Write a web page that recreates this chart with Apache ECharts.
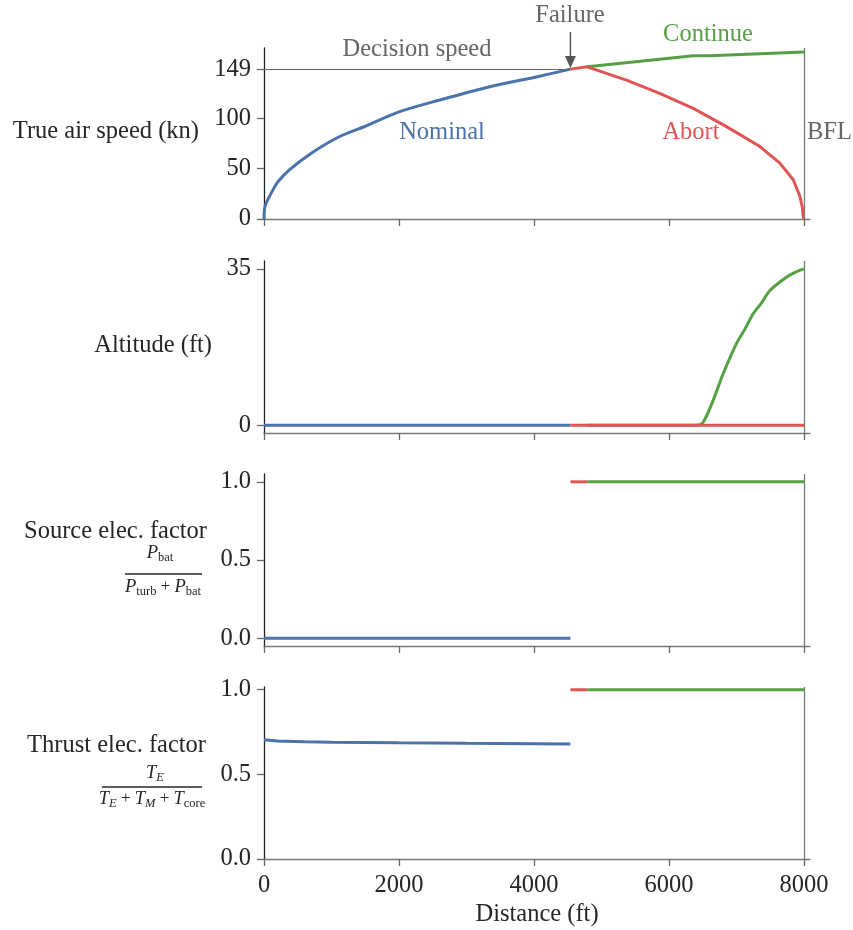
<!DOCTYPE html>
<html>
<head>
<meta charset="utf-8">
<script src="https://cdn.jsdelivr.net/npm/echarts@6/dist/echarts.min.js"></script>
<style>
  html, body { margin: 0; padding: 0; background: #fff; }
  #chart { width: 853px; height: 930px; }
</style>
</head>
<body>
<div id="chart"></div>
<script>
// ---------- data ----------
const xTicks = [0, 2000, 4000, 6000, 8000];
const decisionSpeed = 149;
const failureDist = 4540;
const bflDist = 8000;

const tasTicks = [0, 50, 100, 149];
const altTicks = [0, 35];
const factorTicks = [0, 0.5, 1.0];

// True air speed (kn)
const tasNominal = [[0,0],[15,12.5],[133,29],[207,37],[380,49],[701,65.4],[1121,82],[1500,92.2],[2010,106.7],[2604,118.3],[3345,131.5],[4086,142],[4540,149]];
const tasAbort = [[4540,149],[4790,151.3],[5370,138],[5863,124.9],[6360,110],[6853,91.8],[7348,72],[7644,55.5],[7842,39],[7941,22.4],[7975,12],[7990,2.6],[8000,0]];
const tasContinue = [[4790,151.3],[6360,162.2],[6600,162.3],[8000,166.1]];

// Altitude (ft)
const altNominal = [[0,0],[4540,0]];
const altAbort = [[4540,0],[8000,0]];
const altContinue = [[4790,0],[6405,0],[6504,0.6],[6652,5.45],[6800,11.4],[6998,18.2],[7126,21.5],[7245,24.9],[7373,27.4],[7493,30.1],[7740,33.1],[7867,34.2],[8000,35]];

// Source elec. factor
const srcNominal = [[0,0],[4540,0]];
const srcAbort = [[4540,1],[4790,1]];
const srcContinue = [[4790,1],[8000,1]];

// Thrust elec. factor
const thrNominal = [[0,0.704],[200,0.697],[600,0.692],[1000,0.690],[2000,0.686],[3000,0.683],[4540,0.680]];
const thrAbort = [[4540,1],[4790,1]];
const thrContinue = [[4790,1],[8000,1]];

// ---------- style ----------
const FONT = 'Liberation Serif';
const FS = 24.5;
const BLUE = '#4a72ab', RED = '#e05454', GREEN = '#55a044', GRAY = '#666666', TXT = '#262626';

const gridPos = [
  {top: 48, height: 171},
  {top: 261, height: 172},
  {top: 474, height: 172},
  {top: 687, height: 172}
];
const yRanges = [
  {min: 0, max: 170, ticks: tasTicks, fmt: v => String(v)},
  {min: -1.75, max: 36.75, ticks: altTicks, fmt: v => String(v)},
  {min: -0.05, max: 1.05, ticks: factorTicks, fmt: v => v.toFixed(1)},
  {min: 0, max: 1.016, ticks: factorTicks, fmt: v => v.toFixed(1)}
];

const chart = echarts.init(document.getElementById('chart'), null, {renderer: 'canvas'});

const grid = gridPos.map(g => ({left: 264, width: 546, top: g.top, height: g.height}));
const xAxis = gridPos.map((g, i) => ({
  type: 'value', gridIndex: i, min: 0, max: 8090,
  axisLine: {show: true, onZero: false, lineStyle: {color: '#777', width: 1.3}},
  axisTick: {show: true, length: 7, customValues: xTicks, lineStyle: {color: '#666', width: 1.3}},
  axisLabel: {show: i === 3, customValues: xTicks, formatter: v => String(v), margin: 14,
              color: TXT, fontFamily: FONT, fontSize: FS},
  splitLine: {show: false}
}));
const yAxis = yRanges.map((r, i) => ({
  type: 'value', gridIndex: i, min: r.min, max: r.max,
  axisLine: {show: true, onZero: false, lineStyle: {color: '#222', width: 1.3}},
  axisTick: {show: true, length: 7, customValues: r.ticks, lineStyle: {color: '#666', width: 1.3}},
  axisLabel: {customValues: r.ticks, formatter: r.fmt, margin: 13, color: TXT, fontFamily: FONT, fontSize: FS},
  splitLine: {show: false}
}));

function line(name, data, color, gi, extra) {
  return Object.assign({
    type: 'line', name: name, data: data, xAxisIndex: gi, yAxisIndex: gi,
    showSymbol: false, symbol: 'none', silent: true, clip: false,
    lineStyle: {color: color, width: 3}, itemStyle: {color: color},
    emphasis: {disabled: true}
  }, extra || {});
}
const SM = {smooth: 0.3};
function bflMark(extraData) {
  return {
    silent: true, symbol: ['none', 'none'], label: {show: false}, animation: false,
    lineStyle: {color: '#777', width: 1.3, type: 'solid'},
    emphasis: {disabled: true},
    data: [{xAxis: bflDist}].concat(extraData || [])
  };
}

const panels = [
  [tasNominal, tasContinue, tasAbort],
  [altNominal, altContinue, altAbort],
  [srcNominal, srcContinue, srcAbort],
  [thrNominal, thrContinue, thrAbort]
];
const series = [];
panels.forEach((p, i) => {
  const extra = i === 0
    ? [[{coord: [0, decisionSpeed], lineStyle: {color: GRAY, width: 1}}, {coord: [failureDist, decisionSpeed]}]]
    : [];
  series.push(line('Nominal', p[0], BLUE, i, Object.assign({markLine: bflMark(extra)}, i === 0 ? SM : {})));
  series.push(line('Continue', p[1], GREEN, i, i === 1 ? SM : {}));
  series.push(line('Abort', p[2], RED, i, {}));
});

chart.setOption({
  animation: false,
  backgroundColor: '#fff',
  textStyle: {fontFamily: FONT},
  grid: grid, xAxis: xAxis, yAxis: yAxis, series: series
});

// ---------- annotations ----------
function txt(text, x, y, color, align, size) {
  return {
    type: 'text', silent: true, z: 100,
    style: {text: text, x: x, y: y, fill: color, font: (size || FS) + 'px "' + FONT + '"',
            align: align || 'center', verticalAlign: 'middle',
            textAlign: align || 'center', textVerticalAlign: 'middle'}
  };
}
function rich(text, x, y) {
  const base = {fontFamily: FONT, fill: TXT, color: TXT};
  return {
    type: 'text', silent: true, z: 100,
    style: {
      text: text, x: x, y: y, align: 'center', verticalAlign: 'middle',
      textAlign: 'center', textVerticalAlign: 'middle',
      font: '18px "' + FONT + '"', fill: TXT,
      rich: {
        i: Object.assign({fontSize: 18.5, fontStyle: 'italic', lineHeight: 22, verticalAlign: 'middle'}, base),
        s: Object.assign({fontSize: 12.5, lineHeight: 11, verticalAlign: 'bottom'}, base),
        si: Object.assign({fontSize: 12.5, fontStyle: 'italic', lineHeight: 11, verticalAlign: 'bottom'}, base),
        o: Object.assign({fontSize: 17, lineHeight: 22, verticalAlign: 'middle'}, base)
      }
    }
  };
}
function bar(x1, x2, y) {
  return {type: 'line', silent: true, z: 100, shape: {x1: x1, y1: y, x2: x2, y2: y},
          style: {stroke: TXT, lineWidth: 1.5}};
}

const tip = chart.convertToPixel({xAxisIndex: 0, yAxisIndex: 0}, [failureDist, decisionSpeed]);
const ax = tip[0], ay = tip[1] - 1;

chart.setOption({
  graphic: [
    // panel y labels
    txt('True air speed (kn)', 199, 132, TXT, 'right'),
    txt('Altitude (ft)', 212, 346, TXT, 'right'),
    txt('Source elec. factor', 207, 532, TXT, 'right'),
    rich('{i|P}{s|bat}', 160, 553),
    bar(125, 202, 574),
    rich('{i|P}{s|turb}{o| + }{i|P}{s|bat}', 163, 587),
    txt('Thrust elec. factor', 206, 746, TXT, 'right'),
    rich('{i|T}{si|E}', 155, 773),
    bar(102, 202, 787),
    rich('{i|T}{si|E}{o| + }{i|T}{si|M}{o| + }{i|T}{s|core}', 152, 799),
    // x axis name
    txt('Distance (ft)', 537, 915, TXT, 'center'),
    // annotations
    txt('Decision speed', 417, 50, GRAY, 'center'),
    txt('Failure', 570, 16, GRAY, 'center'),
    txt('Continue', 708, 35, GREEN, 'center'),
    txt('Nominal', 442, 133, BLUE, 'center'),
    txt('Abort', 691, 133, RED, 'center'),
    txt('BFL', 807, 133, GRAY, 'left'),
    // failure arrow
    {type: 'line', silent: true, z: 100, shape: {x1: ax, y1: ay - 36, x2: ax, y2: ay - 10},
     style: {stroke: '#555', lineWidth: 1.5}},
    {type: 'polygon', silent: true, z: 100,
     shape: {points: [[ax - 5.5, ay - 12], [ax + 5.5, ay - 12], [ax, ay]]},
     style: {fill: '#555'}}
  ]
});
</script>
</body>
</html>
